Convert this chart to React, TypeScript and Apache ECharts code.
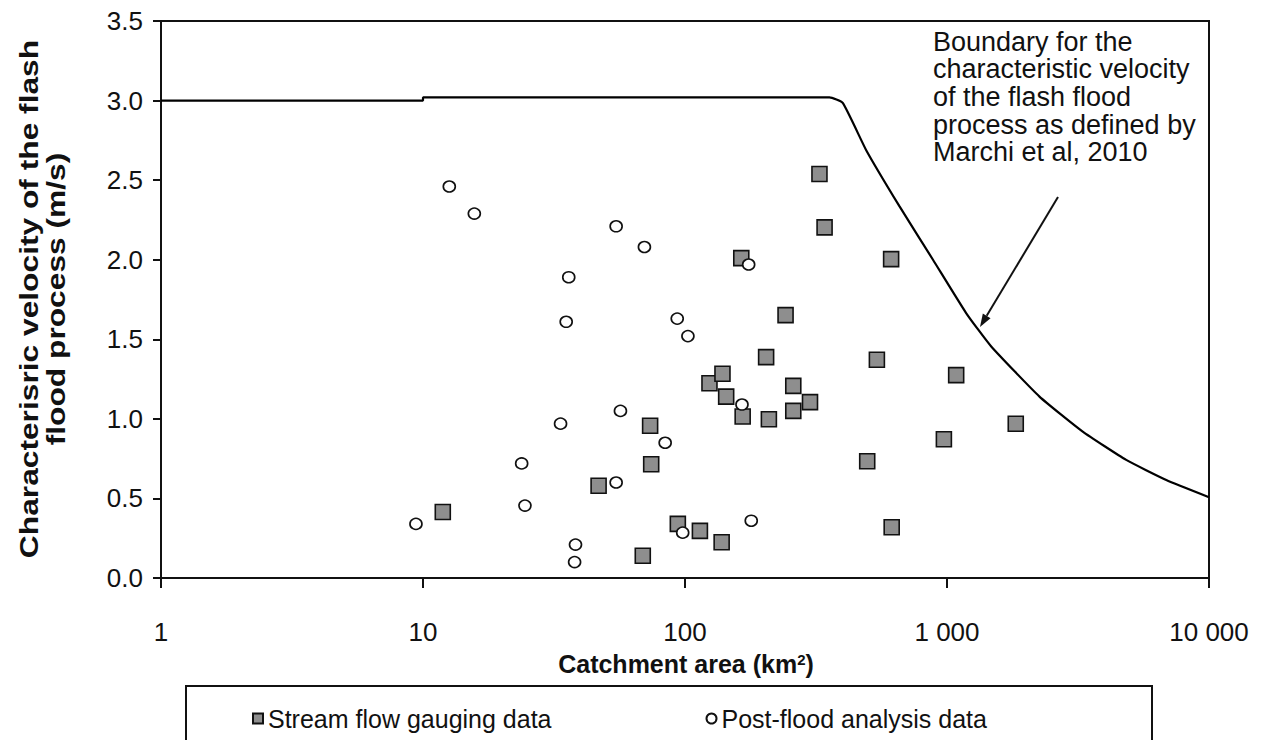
import React, { useEffect, useRef } from "react";
import * as echarts from "echarts";

// Stream flow gauging data (catchment area km², velocity m/s)
const gaugeArea = [11.9, 46.8, 73.6, 74.3, 69, 93.9, 114, 138, 124, 139, 143.6, 166, 209, 204, 242, 259, 259, 300, 540, 496, 615, 973, 1084, 1830, 326, 341, 612, 164];
const gaugeVel = [0.415, 0.58, 0.957, 0.715, 0.14, 0.34, 0.296, 0.225, 1.224, 1.283, 1.14, 1.015, 0.998, 1.388, 1.652, 1.207, 1.05, 1.105, 1.371, 0.734, 0.319, 0.872, 1.275, 0.969, 2.539, 2.203, 2.004, 2.01];

// Post-flood analysis data
const postArea = [12.6, 15.7, 36, 35.2, 33.5, 23.8, 24.5, 9.4, 38.2, 37.9, 54.6, 70, 175, 93.4, 102.6, 56.7, 84, 54.6, 98, 179, 165];
const postVel = [2.46, 2.29, 1.89, 1.61, 0.97, 0.72, 0.455, 0.34, 0.21, 0.10, 2.21, 2.08, 1.97, 1.63, 1.52, 1.05, 0.85, 0.60, 0.285, 0.36, 1.09];

// Boundary (Marchi et al, 2010)
const boundArea = [1, 10, 10, 356, 400, 491, 659, 884, 1183, 1475, 2254, 3296, 4830, 6870, 10000];
const boundVel = [3.0, 3.0, 3.02, 3.02, 2.985, 2.69, 2.335, 2.0, 1.665, 1.455, 1.14, 0.92, 0.742, 0.616, 0.508];

const yTicks = { min: 0, max: 3.5, interval: 0.5 };
const xRange = { min: 1, max: 10000 };

const annotationLines = [
  "Boundary for the",
  "characteristic velocity",
  "of the flash flood",
  "process as defined by",
  "Marchi et al, 2010",
];

const FONT = 'Arial, "Liberation Sans", sans-serif';

function fmtThousands(v: number): string {
  const s = String(Math.round(v));
  return s.replace(/\B(?=(\d{3})+(?!\d))/g, " ");
}

export default function App() {
  const ref = useRef<HTMLDivElement>(null);

  useEffect(() => {
    document.body.style.margin = "0";
    if (!ref.current) return;
    const chart = echarts.init(ref.current, null, { renderer: "svg" });

    const gauge = gaugeArea.map((a, i) => [a, gaugeVel[i]]);
    const post = postArea.map((a, i) => [a, postVel[i]]);
    const bound = boundArea.map((a, i) => [a, boundVel[i]]);

    const tip = [980, 327];
    const tail = [1058, 197];
    const dx = tip[0] - tail[0];
    const dy = tip[1] - tail[1];
    const len = Math.sqrt(dx * dx + dy * dy);
    const ux = dx / len;
    const uy = dy / len;
    const hl = 13;
    const hw = 4.5;
    const bx = tip[0] - ux * hl;
    const by = tip[1] - uy * hl;

    chart.setOption({
      animation: false,
      backgroundColor: "#ffffff",
      textStyle: { fontFamily: FONT },
      grid: {
        left: 161,
        right: 57,
        top: 21,
        bottom: 162,
        show: true,
        borderColor: "#111",
        borderWidth: 2,
        backgroundColor: "transparent",
      },
      legend: {
        left: 247,
        top: 701,
        itemWidth: 10,
        itemHeight: 10,
        itemGap: 154,
        textStyle: { fontSize: 25, color: "#111", fontFamily: FONT },
        data: [
          { name: "Stream flow gauging data", icon: "rect" },
          { name: "Post-flood analysis data", icon: "circle" },
        ],
      },
      xAxis: {
        type: "log",
        logBase: 10,
        min: xRange.min,
        max: xRange.max,
        axisLine: { show: true, lineStyle: { color: "#111", width: 2 } },
        axisTick: { show: true, inside: false, length: 10, lineStyle: { color: "#111", width: 2 } },
        minorTick: { show: false },
        splitLine: { show: false },
        axisLabel: {
          margin: 41,
          fontSize: 26,
          color: "#111",
          fontFamily: FONT,
          formatter: (v: number) => fmtThousands(v),
        },
      },
      yAxis: {
        type: "value",
        min: yTicks.min,
        max: yTicks.max,
        interval: yTicks.interval,
        axisLine: { show: true, lineStyle: { color: "#111", width: 2 } },
        axisTick: { show: true, inside: false, length: 8, lineStyle: { color: "#111", width: 2 } },
        splitLine: { show: false },
        axisLabel: {
          margin: 18,
          fontSize: 26,
          color: "#111",
          fontFamily: FONT,
          formatter: (v: number) => v.toFixed(1),
        },
      },
      series: [
        {
          name: "Boundary",
          type: "line",
          data: bound,
          showSymbol: false,
          symbol: "none",
          smooth: 0.15,
          lineStyle: { color: "#000", width: 2.2 },
          z: 2,
        },
        {
          name: "Stream flow gauging data",
          type: "scatter",
          data: gauge,
          symbol: "rect",
          symbolSize: 15,
          itemStyle: { color: "#8e8e8e", borderColor: "#111", borderWidth: 1.6, opacity: 1 },
          z: 3,
        },
        {
          name: "Post-flood analysis data",
          type: "scatter",
          data: post,
          symbol: "circle",
          symbolSize: [12, 11],
          itemStyle: { color: "#ffffff", borderColor: "#111", borderWidth: 1.6, opacity: 1 },
          z: 4,
        },
      ],
      graphic: [
        {
          type: "text",
          x: 43,
          y: 299,
          rotation: Math.PI / 2,
          scaleX: 1.22,
          scaleY: 1,
          style: {
            text: "Characterisric velocity of the flash\nflood process (m/s)",
            fontFamily: FONT,
            fontWeight: "bold",
            fontSize: 26,
            lineHeight: 27,
            fill: "#111",
            align: "center",
            verticalAlign: "middle",
          },
        },
        {
          type: "text",
          x: 686,
          y: 664,
          style: {
            text: "Catchment area (km{sup|2})",
            fontFamily: FONT,
            fontWeight: "bold",
            fontSize: 25,
            fill: "#111",
            align: "center",
            verticalAlign: "middle",
            rich: {
              sup: {
                fontSize: 15,
                fontWeight: "bold",
                fontFamily: FONT,
                verticalAlign: "top",
                padding: [0, 0, 10, 0],
              },
            },
          },
        },
        {
          type: "text",
          x: 933,
          y: 27.75,
          style: {
            text: annotationLines.join("\n"),
            fontFamily: FONT,
            fontSize: 27,
            lineHeight: 27.7,
            fill: "#111",
            align: "left",
            verticalAlign: "top",
          },
        },
        {
          type: "line",
          shape: { x1: tail[0], y1: tail[1], x2: bx, y2: by },
          style: { stroke: "#111", lineWidth: 2 },
        },
        {
          type: "polygon",
          shape: {
            points: [
              [tip[0], tip[1]],
              [bx - uy * hw, by + ux * hw],
              [bx + uy * hw, by - ux * hw],
            ],
          },
          style: { fill: "#111" },
        },
        {
          type: "rect",
          shape: { x: 186, y: 686, width: 966, height: 80 },
          style: { fill: "transparent", stroke: "#111", lineWidth: 2 },
          z: -1,
        },
      ],
    });

    return () => chart.dispose();
  }, []);

  return (
    <div
      ref={ref}
      style={{ position: "absolute", left: 0, top: 0, width: 1266, height: 740 }}
    />
  );
}
